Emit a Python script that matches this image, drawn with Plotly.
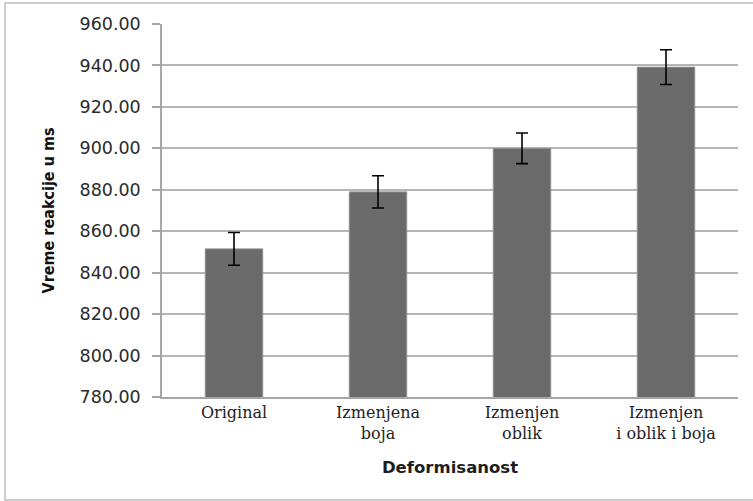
import plotly.graph_objects as go

categories = ["Original", "Izmenjena<br>boja", "Izmenjen<br>oblik", "Izmenjen<br>i oblik i boja"]
means = [851.5, 879.0, 900.0, 939.2]
errors = [7.9, 7.8, 7.4, 8.4]
y_ticks = [780, 800, 820, 840, 860, 880, 900, 920, 940, 960]
y_tick_labels = [f"{v:.2f}" for v in y_ticks]

W, H = 753, 501
ML, MR, MT, MB = 162, 15, 24, 104

fig = go.Figure()
fig.add_trace(go.Bar(
    x=categories, y=means,
    marker=dict(color="#6b6b6b", line=dict(color="#9a9a9a", width=0.8)),
    error_y=dict(type="data", array=errors, visible=True,
                 color="#000000", thickness=1.6, width=6),
    showlegend=False,
))

pw = W - ML - MR
ph = H - MT - MB
# outer chart border (in paper coords)
x0 = (5 - ML) / pw
x1 = (760 - ML) / pw
y0 = ((H - MB) - 500) / ph
y1 = ((H - MB) - 3) / ph
fig.add_shape(type="rect", xref="paper", yref="paper", x0=x0, x1=x1, y0=y0, y1=y1,
              line=dict(color="#bdbdbd", width=1.5), fillcolor="rgba(0,0,0,0)", layer="below")

fig.update_layout(
    width=W, height=H,
    margin=dict(l=ML, r=MR, t=MT, b=MB, pad=0, autoexpand=False),
    paper_bgcolor="white", plot_bgcolor="white",
    bargap=0.6,
    xaxis=dict(
        automargin=False,
        showline=True, linecolor="#a6a6a6", linewidth=1.5,
        ticks="", showgrid=False,
        tickfont=dict(family="DejaVu Serif", size=16, color="#1e1e1e"),
        title=dict(text="Deformisanost", standoff=20,
                   font=dict(family="DejaVu Sans", size=16.5, color="#1e1e1e", weight="bold")),
    ),
    yaxis=dict(
        automargin=False,
        range=[780, 960],
        tickvals=y_ticks, ticktext=y_tick_labels,
        showline=True, linecolor="#a6a6a6", linewidth=1.5,
        ticks="outside", ticklen=8, tickcolor="#a6a6a6", tickwidth=1.5,
        showgrid=True, gridcolor="#b5b5b5", gridwidth=1.5,
        zeroline=False,
        tickfont=dict(family="DejaVu Sans", size=17.5, color="#2a2a2a"),
        ticklabelstandoff=8,
        title=dict(text="Vreme reakcije u ms", standoff=21,
                   font=dict(family="DejaVu Sans Condensed", size=16, color="#111111", weight="bold")),
    ),
)

fig.write_html("out.html", config={"displayModeBar": False},
               post_script="document.body.style.margin='0';document.body.style.overflow='hidden';")
